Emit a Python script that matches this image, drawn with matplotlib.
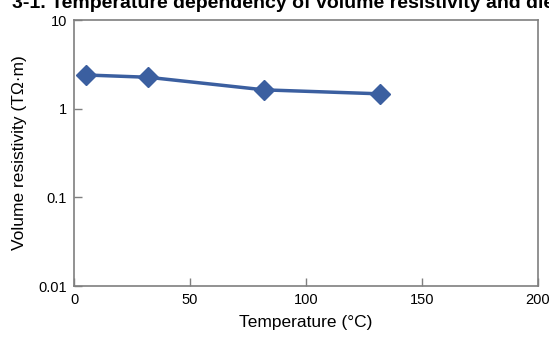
import numpy as np
import matplotlib.pyplot as plt

plt.rcParams['font.family'] = ['Liberation Sans Narrow', 'Liberation Sans', 'DejaVu Sans']

# data
temperature = [5, 32, 82, 132]
resistivity = [2.40, 2.26, 1.63, 1.47]

title_text = "3-1. Temperature dependency of volume resistivity and dielectric"
blue = '#3B5FA0'
gray = '#7f7f7f'

fig = plt.figure(figsize=(5.49, 3.38), dpi=100)
ax = fig.add_axes([0.1348, 0.1538, 0.8452, 0.787])

ax.plot(temperature, resistivity, color=blue, lw=2.5, marker='D', ms=10,
        markerfacecolor=blue, markeredgecolor=blue, clip_on=False, zorder=3)

ax.set_yscale('log')
ax.set_xlim(0, 200)
ax.set_ylim(0.01, 10)
ax.set_xticks([0, 50, 100, 150, 200])
ax.set_yticks([0.01, 0.1, 1, 10])
ax.set_yticklabels(['0.01', '0.1', '1', '10'])
ax.minorticks_off()
ax.tick_params(direction='in', length=6, color=gray, width=1, labelsize=10.5, pad=5)

for s in ax.spines.values():
    s.set_color(gray)
    s.set_linewidth(1.2)

ax.set_xlabel('Temperature (°C)', fontsize=12.5, labelpad=6)
ax.set_ylabel('Volume resistivity (TΩ·m)', fontsize=12.5, labelpad=8)

# title is cut off by the top edge in the reference
fig.text(12 / 549, 1 - 8.5 / 338, title_text, fontsize=14, fontweight='bold',
         va='baseline', ha='left')

fig.savefig('out.png', dpi=100)
